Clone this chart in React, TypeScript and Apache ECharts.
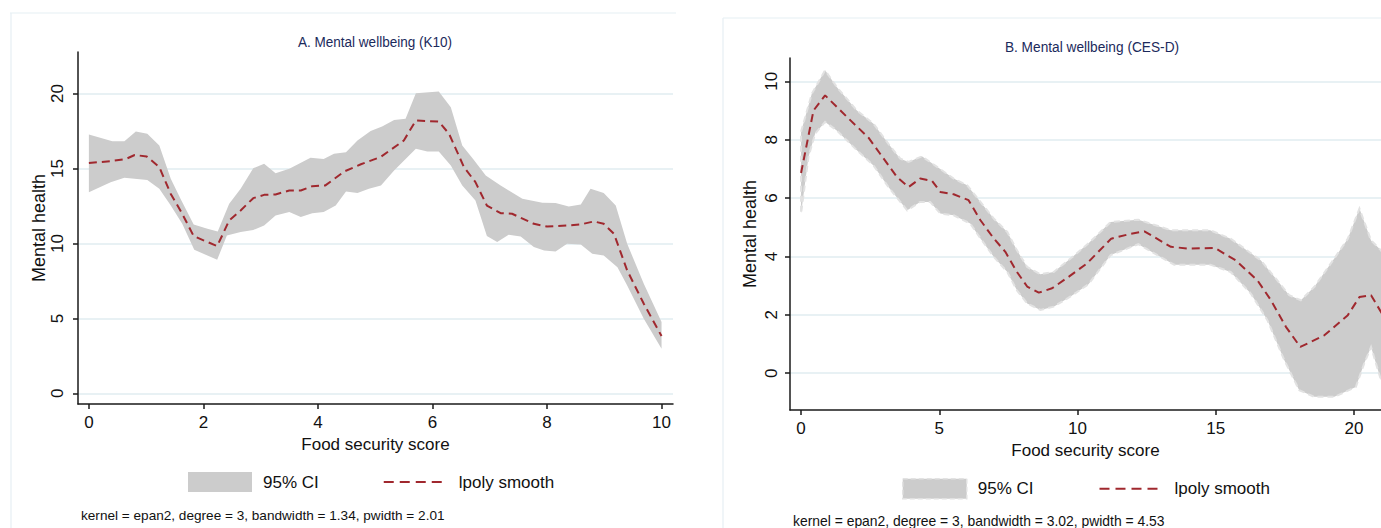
import React, { useEffect, useRef } from "react";
import * as echarts from "echarts";

// ---------- Data ----------
// Panel A: Mental wellbeing (K10)
const lineA: number[][] = [
  [0, 15.36], [0.4, 15.5], [0.65, 15.64], [0.8, 15.9], [1.01, 15.8], [1.23, 15.09], [1.43, 13.3],
  [1.63, 11.98], [1.83, 10.49], [2.24, 9.82], [2.45, 11.53], [2.65, 12.2], [2.87, 13.02],
  [3.06, 13.24], [3.26, 13.27], [3.5, 13.53], [3.7, 13.53], [3.9, 13.82], [4.13, 13.87],
  [4.46, 14.8], [4.75, 15.28], [5.1, 15.78], [5.5, 16.87], [5.71, 18.2], [6.11, 18.13],
  [6.29, 17.31], [6.55, 15.09], [6.75, 14.09], [6.95, 12.53], [7.19, 12.02], [7.39, 11.98],
  [7.77, 11.31], [8.0, 11.13], [8.35, 11.2], [8.59, 11.27], [8.82, 11.47], [8.99, 11.31],
  [9.17, 10.64], [9.4, 8.2], [9.69, 5.98], [10.0, 3.82],
];
const upperA: number[][] = [
  [0, 17.27], [0.41, 16.82], [0.62, 16.82], [0.82, 17.47], [1.02, 17.31], [1.23, 16.53],
  [1.43, 14.31], [1.6, 12.98], [1.83, 11.27], [2.07, 10.98], [2.25, 10.8], [2.45, 12.64],
  [2.65, 13.64], [2.87, 15.02], [3.06, 15.31], [3.26, 14.69], [3.5, 14.98], [3.87, 15.71],
  [4.1, 15.64], [4.28, 15.98], [4.49, 16.09], [4.69, 16.87], [4.92, 17.5], [5.12, 17.8],
  [5.33, 18.24], [5.53, 18.31], [5.71, 20.02], [6.11, 20.13], [6.32, 19.09], [6.52, 16.53],
  [6.72, 15.58], [6.93, 14.53], [7.19, 13.87], [7.57, 12.98], [7.92, 12.71], [8.15, 12.69],
  [8.38, 12.47], [8.59, 12.6], [8.76, 13.64], [8.99, 13.36], [9.2, 12.53], [9.4, 9.98],
  [9.69, 7.31], [10.0, 4.76],
];
const lowerA: number[][] = [
  [0, 13.42], [0.38, 14.09], [0.62, 14.38], [1.02, 14.24], [1.23, 13.64], [1.43, 12.53],
  [1.63, 11.31], [1.84, 9.58], [2.24, 8.91], [2.41, 10.53], [2.65, 10.76], [2.87, 10.9],
  [3.06, 11.2], [3.26, 11.87], [3.5, 12.09], [3.7, 11.76], [3.9, 12.02], [4.1, 12.09],
  [4.31, 12.53], [4.49, 13.47], [4.69, 13.36], [4.89, 13.64], [5.1, 13.87], [5.33, 14.87],
  [5.71, 16.31], [5.91, 16.13], [6.11, 16.13], [6.32, 15.2], [6.52, 13.87], [6.75, 12.87],
  [6.95, 10.49], [7.13, 10.09], [7.33, 10.58], [7.54, 10.47], [7.77, 9.76], [7.95, 9.53],
  [8.15, 9.47], [8.35, 9.98], [8.59, 9.93], [8.79, 9.31], [8.99, 9.2], [9.23, 8.42],
  [9.4, 7.2], [9.69, 4.98], [10.0, 2.98],
];

// Panel B: Mental wellbeing (CES-D)
const lineB: number[][] = [
  [0, 6.86], [0.45, 9.0], [0.87, 9.52], [1.66, 8.78], [2.44, 8.07], [2.86, 7.52], [3.47, 6.72],
  [3.89, 6.38], [4.31, 6.67], [4.74, 6.59], [5.04, 6.21], [5.52, 6.13], [6.06, 5.93],
  [6.49, 5.24], [6.97, 4.62], [7.39, 4.16], [7.81, 3.47], [8.18, 2.97], [8.6, 2.76],
  [9.08, 2.91], [9.69, 3.31], [10.34, 3.76], [11.22, 4.61], [11.94, 4.78], [12.42, 4.86],
  [13.38, 4.33], [14.02, 4.27], [14.97, 4.29], [15.72, 3.87], [16.51, 3.18], [17.0, 2.5],
  [17.54, 1.59], [18.06, 0.9], [18.93, 1.3], [19.78, 1.99], [20.2, 2.61], [20.62, 2.67],
  [20.98, 2.1], [21.4, 1.4],
];
const upperB: number[][] = [
  [0, 8.27], [0.39, 9.58], [0.87, 10.38], [1.29, 9.81], [2.02, 9.0], [2.62, 8.55], [3.16, 7.86],
  [3.59, 7.35], [3.89, 7.24], [4.37, 7.43], [4.92, 7.07], [5.52, 6.67], [6.01, 6.44],
  [6.49, 5.87], [6.97, 5.3], [7.46, 4.84], [7.81, 4.21], [8.18, 3.64], [8.66, 3.39],
  [9.14, 3.47], [9.75, 3.93], [10.4, 4.45], [11.2, 5.18], [12.2, 5.26], [13.38, 4.9],
  [14.8, 4.9], [15.54, 4.61], [16.63, 3.87], [17.23, 3.18], [17.66, 2.67], [18.08, 2.5],
  [18.57, 2.96], [19.29, 3.93], [19.78, 4.61], [20.2, 5.64], [20.62, 4.55], [20.98, 4.21],
  [21.4, 3.6],
];
const lowerB: number[][] = [
  [0, 5.47], [0.27, 7.42], [0.51, 8.21], [0.87, 8.61], [1.29, 8.32], [2.02, 7.64], [2.62, 7.12],
  [3.16, 6.38], [3.84, 5.58], [4.31, 5.87], [4.67, 5.87], [5.04, 5.47], [5.52, 5.41],
  [6.12, 5.13], [6.49, 4.62], [6.97, 3.99], [7.46, 3.47], [7.81, 2.84], [8.18, 2.39],
  [8.66, 2.17], [9.14, 2.28], [9.75, 2.63], [10.4, 3.05], [11.2, 4.05], [12.2, 4.42],
  [13.5, 3.72], [14.8, 3.72], [15.54, 3.47], [16.27, 2.73], [16.87, 1.82], [17.48, 0.45],
  [18.02, -0.58], [18.57, -0.81], [19.29, -0.81], [20.07, -0.47], [20.37, 0.33], [20.62, 0.9],
  [20.98, -0.24], [21.4, -0.9],
];

const xTicksA = [0, 2, 4, 6, 8, 10];
const yTicksA = [0, 5, 10, 15, 20];
const xTicksB = [0, 5, 10, 15, 20];
const yTicksB = [0, 2, 4, 6, 8, 10];

const titleA = "A. Mental wellbeing (K10)";
const titleB = "B. Mental wellbeing (CES-D)";
const footA = "kernel = epan2, degree = 3, bandwidth = 1.34, pwidth = 2.01";
const footB = "kernel = epan2, degree = 3, bandwidth = 3.02, pwidth = 4.53";
const xName = "Food security score";
const yName = "Mental health";
const ciName = "95% CI";
const lineName = "lpoly smooth";

// ---------- Styles ----------
const FONT = "'Liberation Sans', Arial, Helvetica, sans-serif";
const AXIS = { color: "#1a1a1a", width: 1.5 };
const GRID_COLOR = "#e1edf1";
const FRAME = "#e6eff3";
const RED = "#a0282e";
const CI_FILL = "#cccccc";

function polygonSeries(name: string, upper: number[][], lower: number[][], idx: number, outlined: boolean) {
  const pts = [...upper, ...lower.slice().reverse()];
  return {
    type: "custom",
    name,
    xAxisIndex: idx,
    yAxisIndex: idx,
    clip: true,
    itemStyle: { color: CI_FILL },
    data: pts,
    encode: { x: 0, y: 1 },
    renderItem: (params: any, api: any) => {
      if (params.dataIndex !== 0) return null;
      const points = pts.map((p) => api.coord(p));
      return {
        type: "polygon",
        shape: { points },
        style: outlined
          ? { fill: CI_FILL, stroke: "#e2e2e2", lineWidth: 2, lineDash: [6, 4] }
          : { fill: CI_FILL },
      };
    },
    z: 2,
  };
}

function lineSeries(data: number[][], idx: number) {
  return {
    type: "line",
    name: lineName,
    xAxisIndex: idx,
    yAxisIndex: idx,
    data,
    showSymbol: false,
    symbol: "none",
    clip: true,
    lineStyle: { color: RED, width: 2, type: [8, 5] },
    itemStyle: { color: RED },
    z: 3,
  };
}

function xAxis(idx: number, min: number, max: number, ticks: number[], margin: number, gap: number) {
  return {
    gridIndex: idx,
    type: "value",
    min,
    max,
    axisLine: { show: true, onZero: false, lineStyle: AXIS },
    axisTick: { show: true, length: 5, lineStyle: AXIS, customValues: ticks },
    axisLabel: { customValues: ticks, fontSize: 17, fontFamily: FONT, color: "#111", margin },
    splitLine: { show: false },
    name: xName,
    nameLocation: "middle",
    nameGap: gap,
    nameTextStyle: { fontSize: 17, fontFamily: FONT, color: "#111" },
  };
}

function yAxis(idx: number, min: number, max: number, ticks: number[], margin: number, gap: number) {
  return {
    gridIndex: idx,
    type: "value",
    min,
    max,
    axisLine: { show: true, onZero: false, lineStyle: AXIS },
    axisTick: { show: true, length: 5, lineStyle: AXIS, customValues: ticks },
    axisLabel: { customValues: ticks, rotate: 90, fontSize: 17, fontFamily: FONT, color: "#111", margin },
    splitLine: { show: true, lineStyle: { color: GRID_COLOR, width: 1.5 } },
    name: yName,
    nameLocation: "middle",
    nameGap: gap,
    nameTextStyle: { fontSize: 18, fontFamily: FONT, color: "#111" },
  };
}

function legend(left: number, top: number, gap: number, outlined: boolean) {
  return {
    left,
    top,
    padding: 0,
    orient: "horizontal",
    itemWidth: 64,
    itemHeight: 20,
    itemGap: gap,
    selectedMode: false,
    textStyle: { fontSize: 17, fontFamily: FONT, color: "#111", padding: [0, 0, 0, 6] },
    data: [
      {
        name: ciName,
        icon: "rect",
        itemStyle: outlined
          ? { color: CI_FILL, borderColor: "#e2e2e2", borderWidth: 1.5, borderType: [5, 3] }
          : { color: CI_FILL, borderWidth: 0 },
      },
      {
        name: lineName,
        itemStyle: { color: "rgba(0,0,0,0)", opacity: 0, borderWidth: 0 },
        lineStyle: { color: RED, width: 2, type: [10, 6] },
      },
    ],
  };
}

function text(
  x: number, y: number, t: string, size: number, color: string, align: string, scaleX = 1,
) {
  return {
    type: "text",
    x,
    y,
    scaleX,
    style: { text: t, fontSize: size, fontFamily: FONT, fill: color, align, verticalAlign: "middle" },
    silent: true,
  };
}

function frameLine(x1: number, y1: number, x2: number, y2: number) {
  return {
    type: "line",
    shape: { x1, y1, x2, y2 },
    style: { stroke: FRAME, lineWidth: 1.2 },
    silent: true,
    z: -1,
  };
}

export default function App() {
  const ref = useRef<HTMLDivElement>(null);

  useEffect(() => {
    if (!ref.current) return;
    const chart = echarts.init(ref.current, undefined, { renderer: "svg" });
    const option: any = {
      animation: false,
      backgroundColor: "#ffffff",
      grid: [
        { left: 78, top: 52, width: 595, height: 352 },
        { left: 790, top: 58, width: 591, height: 352 },
      ],
      xAxis: [xAxis(0, -0.19, 10.2, xTicksA, 10, 32), xAxis(1, -0.4, 20.98, xTicksB, 10, 32)],
      yAxis: [yAxis(0, -0.71, 22.77, yTicksA, 12, 28), yAxis(1, -1.26, 10.8, yTicksB, 10, 31)],
      legend: [legend(188, 472, 64, false), legend(902, 478, 65, true)],
      series: [
        polygonSeries(ciName, upperA, lowerA, 0, false),
        lineSeries(lineA, 0),
        polygonSeries(ciName, upperB, lowerB, 1, true),
        lineSeries(lineB, 1),
      ],
      graphic: [
        frameLine(10, 13, 676, 13),
        frameLine(11, 13, 11, 528),
        frameLine(723, 18, 1381, 18),
        frameLine(723, 18, 723, 528),
        text(375, 42, titleA, 14.5, "#1b2a5c", "center", 0.935),
        text(1092, 47, titleB, 14.5, "#1b2a5c", "center", 0.945),
        text(81, 515, footA, 13.6, "#111", "left"),
        text(793, 521, footB, 13.9, "#111", "left"),
      ],
    };
    chart.setOption(option);
    return () => chart.dispose();
  }, []);

  return (
    <div
      ref={ref}
      style={{ position: "fixed", left: 0, top: 0, width: 1381, height: 528, background: "#fff" }}
    />
  );
}
